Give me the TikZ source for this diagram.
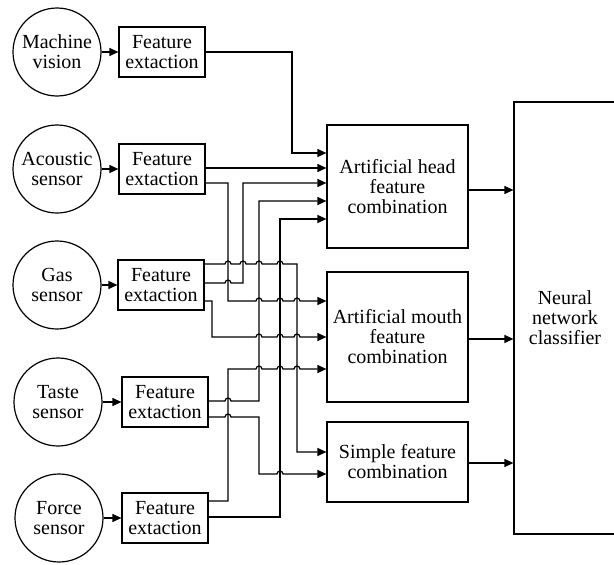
\documentclass[tikz,border=0pt]{standalone}
\usepackage{fontspec}
\setmainfont{Liberation Serif}
\usetikzlibrary{arrows.meta,calc}
\newcommand\hp[2]{-- ({#1-3},#2) arc[start angle=180,end angle=0,radius=3pt]}
\begin{document}
\begin{tikzpicture}[x=1pt,y=-1pt,
  font=\fontsize{20}{20}\selectfont,
  line width=1.2pt,
  sensor/.style={circle,draw,minimum size=88pt,inner sep=0pt,align=center},
  featbox/.style={draw,minimum width=86pt,minimum height=50pt,inner sep=0pt,align=center},
  combo/.style={draw,minimum width=141pt,inner sep=0pt,align=center},
  link/.style={-{Triangle[length=9pt,width=8pt]}}]
\useasboundingbox (0,0) rectangle (614,565);
% sensors
\node[sensor] (mv) at (57,52) {Machine\\vision};
\node[sensor] (ac) at (57,169) {Acoustic\\sensor};
\node[sensor] (gas) at (57,285) {Gas\\sensor};
\node[sensor] (taste) at (58,402) {Taste\\sensor};
\node[sensor] (force) at (59,518) {Force\\sensor};
% feature boxes
\node[featbox] (mvF) at (162,52) {Feature\\extaction};
\node[featbox] (acF) at (162,169) {Feature\\extaction};
\node[featbox] (gasF) at (161,285) {Feature\\extaction};
\node[featbox] (tasteF) at (165,402) {Feature\\extaction};
\node[featbox] (forceF) at (165,518) {Feature\\extaction};
% combination boxes
\node[combo,minimum height=123pt] (head) at (397.5,186.5) {Artificial head\\feature\\combination};
\node[combo,minimum height=130pt] (mouth) at (397.5,337) {Artificial mouth\\feature\\combination};
\node[combo,minimum height=80pt] (simple) at (397.5,462) {Simple feature\\combination};
\node[draw,minimum width=102pt,minimum height=432pt,inner sep=0pt,align=center] (nn) at (565,318) {Neural\\network\\classifier};
% sensor to feature
\draw[link] (mv) -- (mvF);
\draw[link] (ac) -- (acF);
\draw[link] (gas) -- (gasF);
\draw[link] (taste) -- (tasteF);
\draw[link] (force) -- (forceF);
% combos to classifier
\draw[link] (head.east |- 0,190) -- (nn.west |- 0,190);
\draw[link] (mouth.east |- 0,339) -- (nn.west |- 0,339);
\draw[link] (simple.east |- 0,463) -- (nn.west |- 0,463);
% feature to combos
\draw[link] (mvF.east) -- (292,52) -- (292,153) -- (head.west |- 0,153);
\draw[link] (acF.east |- 0,168) -- (head.west |- 0,168);
\draw[link] (acF.east |- 0,183) -- (228,183) -- (228,301) \hp{259}{301}\hp{280}{301}\hp{297}{301} -- (mouth.west |- 0,301);
\draw[link] (gasF.east |- 0,264) \hp{228}{264}\hp{243}{264}\hp{259}{264}\hp{280}{264} -- (297,264) -- (297,452) -- (simple.west |- 0,452);
\draw[link] (gasF.east |- 0,283) \hp{228}{283} -- (243,283) -- (243,183) -- (head.west |- 0,183);
\draw[link] (gasF.east |- 0,301) -- (212,301) -- (212,337) \hp{259}{337}\hp{280}{337}\hp{297}{337} -- (mouth.west |- 0,337);
\draw[link] (tasteF.east |- 0,401) \hp{228}{401} -- (259,401) -- (259,201) -- (head.west |- 0,201);
\draw[link] (tasteF.east |- 0,417) \hp{228}{417} -- (259,417) -- (259,474) \hp{280}{474} -- (simple.west |- 0,474);
\draw[link] (forceF.east |- 0,501) -- (228,501) -- (228,369) \hp{259}{369}\hp{280}{369}\hp{297}{369} -- (mouth.west |- 0,369);
\draw[link] (forceF.east |- 0,517) -- (280,517) -- (280,219) -- (head.west |- 0,219);
\end{tikzpicture}
\end{document}
